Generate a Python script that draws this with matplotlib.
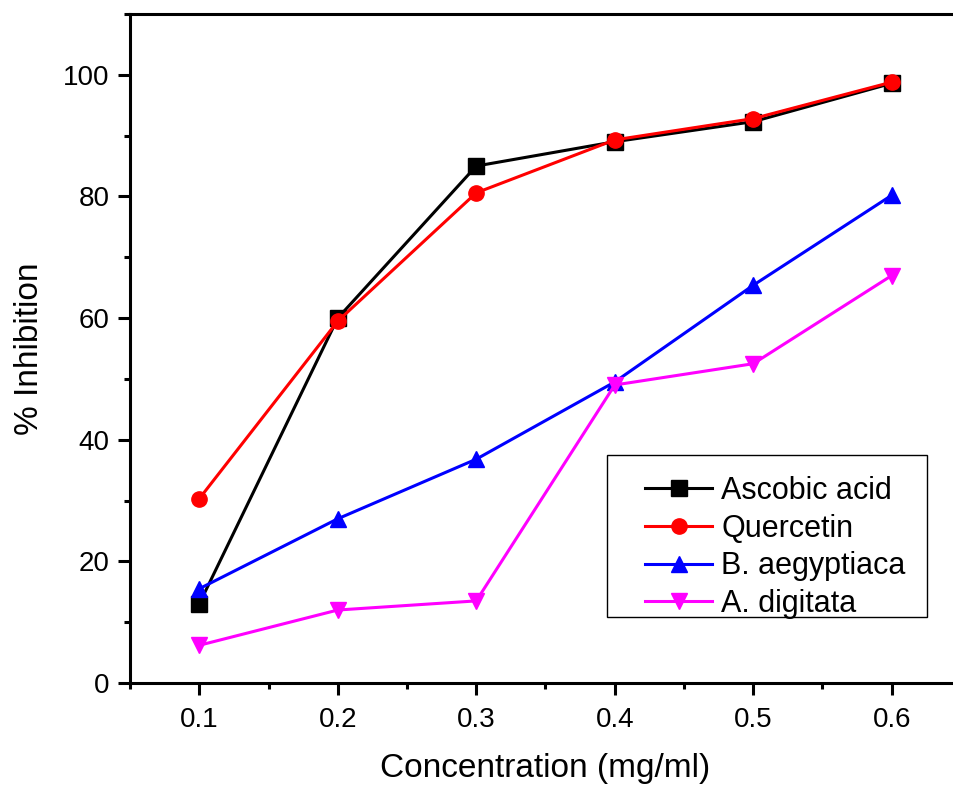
import numpy as np
import matplotlib
matplotlib.use('Agg')
import matplotlib.pyplot as plt
from matplotlib.ticker import MultipleLocator
from matplotlib.patches import Rectangle

plt.rcParams['font.family'] = ['Liberation Sans', 'DejaVu Sans']

conc = [0.1, 0.2, 0.3, 0.4, 0.5, 0.6]
ascorbic = [13.0, 60.0, 85.0, 89.0, 92.3, 98.6]
quercetin = [30.3, 59.5, 80.6, 89.3, 92.8, 98.8]
b_aegyptiaca = [15.5, 27.0, 36.8, 49.5, 65.4, 80.2]
a_digitata = [6.2, 12.0, 13.5, 49.0, 52.5, 67.0]

series = [
    ('Ascobic acid', ascorbic, 'black', 's'),
    ('Quercetin', quercetin, 'red', 'o'),
    ('B. aegyptiaca', b_aegyptiaca, 'blue', '^'),
    ('A. digitata', a_digitata, 'magenta', 'v'),
]

W, H = 954, 785
AX_L, AX_R, AX_T, AX_B = 130, 961, 14, 683
fig = plt.figure(figsize=(W/100, H/100), dpi=100)
ax = fig.add_axes([AX_L/W, 1-AX_B/H, (AX_R-AX_L)/W, (AX_B-AX_T)/H])

def axfrac(px, py):
    return (px-AX_L)/(AX_R-AX_L), (AX_B-py)/(AX_B-AX_T)

for name, vals, col, mk in series:
    ax.plot(conc, vals, color=col, marker=mk, markersize=11, linewidth=2.2, label=name)

ax.set_xlim(0.05, 0.65)
ax.set_ylim(0, 110)
ax.xaxis.set_major_locator(MultipleLocator(0.1))
ax.xaxis.set_minor_locator(MultipleLocator(0.05))
ax.yaxis.set_major_locator(MultipleLocator(20))
ax.yaxis.set_minor_locator(MultipleLocator(10))
ax.tick_params(which='both', direction='out', width=2.2, labelsize=20)
ax.tick_params(axis='x', which='major', length=8.5, pad=9)
ax.tick_params(axis='y', which='major', length=8.5, pad=6)
ax.tick_params(which='minor', length=4.5)
for s in ax.spines.values():
    s.set_linewidth(2.2)

ax.set_xlabel('Concentration (mg/ml)', fontsize=24, labelpad=14)
ax.set_ylabel('% Inhibition', fontsize=24, labelpad=13)

# legend frame drawn separately to get the wider left margin
x0, y0 = axfrac(607, 617)
x1, y1 = axfrac(927, 455)
ax.add_patch(Rectangle((x0, y0), x1-x0, y1-y0, transform=ax.transAxes,
                       facecolor='white', edgecolor='black', linewidth=1, zorder=4))
leg = ax.legend(loc='upper left', bbox_to_anchor=axfrac(645, 476),
                fontsize=22, frameon=False, borderpad=0,
                handlelength=2.2, handletextpad=0.3, labelspacing=0.25, borderaxespad=0)
leg.set_zorder(5)

fig.savefig('out.png', dpi=100)
